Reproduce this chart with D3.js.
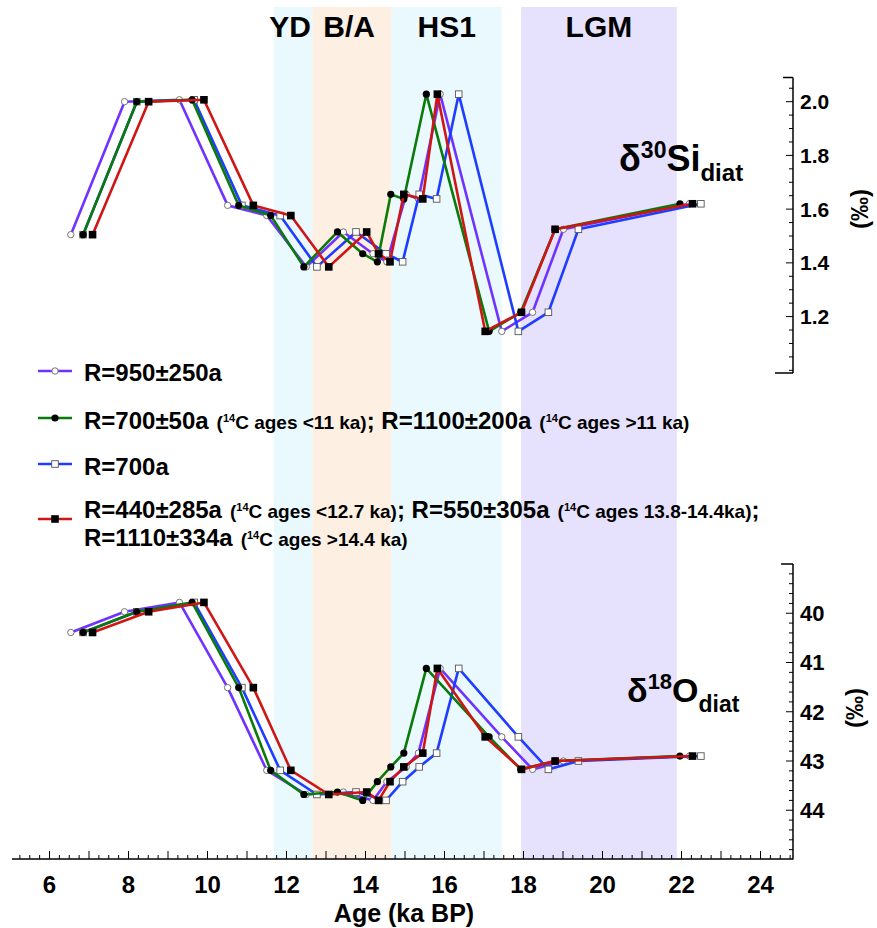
<!DOCTYPE html>
<html><head><meta charset="utf-8">
<script src="https://cdn.jsdelivr.net/npm/d3@7"></script>
<style>
body{margin:0;background:#fff}
text{font-family:"Liberation Sans",Arial,Helvetica,sans-serif;font-weight:bold;fill:#000}
</style>
</head><body>
<svg id="chart" width="877" height="928"></svg>
<script>
// ---------------- data ----------------
const seriesNames = ["R=950±250a", "R=700±50a", "R=700a", "R=440±285a"];
const siValues = [1.505, 2.0, 2.007, 1.614, 1.576, 1.385, 1.515, 1.434, 1.404, 1.655, 1.638, 2.028, 1.145, 1.216, 1.525, 1.62];
const oValues  = [40.39, 39.97, 39.78, 41.51, 43.19, 43.68, 43.63, 43.80, 43.42, 43.12, 42.84, 41.12, 42.51, 43.17, 43.0, 42.90];
const agePurple = [6.54, 7.90, 9.29, 10.51, 11.50, 12.50, 13.44, 14.19, 14.54, 15.03, 15.34, 15.89, 17.45, 18.23, 19.01, 22.20];
const ageGreen  = [6.85, 8.21, 9.61, 10.79, 11.60, 12.44, 13.29, 13.93, 14.30, 14.64, 14.97, 15.54, 17.13, 17.93, 18.80, 21.96];
const ageBlue   = [6.85, 8.21, 9.66, 10.87, 11.84, 12.77, 13.76, 14.52, 14.94, 15.36, 15.80, 16.36, 17.87, 18.63, 19.39, 22.49];
const ageRed    = [7.09, 8.51, 9.91, 11.16, 12.11, 13.07, 14.03, 14.33, 14.62, 14.97, 15.45, 15.82, 17.03, 17.95, 18.80, 22.28];

const bandNames = ["YD", "B/A", "HS1", "LGM"];
const bandStart = [11.68, 12.66, 14.66, 17.94];
const bandEnd   = [12.66, 14.66, 17.45, 21.88];

const xTickLabels = [6, 8, 10, 12, 14, 16, 18, 20, 22, 24];
const siTickLabels = [1.2, 1.4, 1.6, 1.8, 2.0];
const oTickLabels = [40, 41, 42, 43, 44];

// ---------------- setup ----------------
const svg = d3.select("#chart");
const x = d3.scaleLinear().domain([5, 25]).range([10, 800]);
const ySi = d3.scaleLinear().domain([0.99, 2.09]).range([373, 77.5]);
const yO = d3.scaleLinear().domain([39, 45]).range([564, 859.5]);
const axisX = 793, baseY = 859;

const bandColors = ["#eaf9fe", "#fdefe2", "#eaf9fe", "#e6e1fc"];
bandNames.forEach((n, i) => {
  svg.append("rect").attr("x", x(bandStart[i])).attr("y", 7)
    .attr("width", x(bandEnd[i]) - x(bandStart[i])).attr("height", baseY - 7)
    .attr("fill", bandColors[i]);
  svg.append("text").attr("x", (x(bandStart[i]) + x(bandEnd[i])) / 2 - (i < 2 ? 3 : 0)).attr("y", 37)
    .attr("text-anchor", "middle").attr("font-size", 30).text(n);
});

// ---------------- x axis ----------------
svg.append("line").attr("x1", x(5.05)).attr("x2", axisX).attr("y1", baseY).attr("y2", baseY)
  .attr("stroke", "#000").attr("stroke-width", 1.5);
d3.range(5.25, 24.9, 0.25).forEach(t => {
  const major = Math.abs(t - Math.round(t)) < 1e-6;
  svg.append("line").attr("x1", x(t)).attr("x2", x(t)).attr("y1", baseY).attr("y2", baseY - (major ? 8 : 4))
    .attr("stroke", "#000").attr("stroke-width", 1);
});
xTickLabels.forEach(t => {
  svg.append("text").attr("x", x(t)).attr("y", 893).attr("text-anchor", "middle")
    .attr("font-size", 24).text(t);
});
svg.append("text").attr("x", 404).attr("y", 922).attr("text-anchor", "middle")
  .attr("font-size", 25).text("Age (ka BP)");

// ---------------- right axes ----------------
function rightAxis(y, top, bottom, minorStep, majors, fmt, capTop, capBottom, fs) {
  svg.append("line").attr("x1", axisX).attr("x2", axisX).attr("y1", y(top)).attr("y2", y(bottom))
    .attr("stroke", "#000").attr("stroke-width", 1.5);
  svg.append("line").attr("x1", axisX - capTop).attr("x2", axisX).attr("y1", y(top)).attr("y2", y(top))
    .attr("stroke", "#000").attr("stroke-width", 1.5);
  if (capBottom) svg.append("line").attr("x1", axisX - capBottom).attr("x2", axisX).attr("y1", y(bottom)).attr("y2", y(bottom))
    .attr("stroke", "#000").attr("stroke-width", 1.5);
  const lo = Math.min(top, bottom), hi = Math.max(top, bottom);
  const start = Math.ceil((lo + 1e-6) / minorStep) * minorStep;
  for (let v = start; v < hi - 1e-6; v += minorStep) {
    const major = majors.some(m => Math.abs(m - v) < 1e-6);
    svg.append("line").attr("x1", axisX - (major ? 7 : 4)).attr("x2", axisX).attr("y1", y(v)).attr("y2", y(v))
      .attr("stroke", "#000").attr("stroke-width", 1);
  }
  majors.forEach(m => {
    svg.append("text").attr("x", axisX + 7).attr("y", y(m)).attr("dy", "0.36em")
      .attr("font-size", fs).text(fmt(m));
  });
}
rightAxis(ySi, 2.09, 0.99, 0.05, siTickLabels, d3.format(".1f"), 10, 18, 21);
rightAxis(yO, 39, 45, 0.2, oTickLabels, d => d, 12, 0, 22);

[[859, 209], [854, 708]].forEach(([cx, cy]) => {
  svg.append("text").attr("transform", `translate(${cx},${cy}) rotate(-90)`)
    .attr("text-anchor", "middle").attr("dy", "0.36em").attr("font-size", 24).text("(‰)");
});

// panel labels
const t1 = svg.append("text").attr("x", 619).attr("y", 171).attr("font-size", 36);
t1.append("tspan").text("δ");
t1.append("tspan").attr("font-size", 23).attr("dy", -13).text("30");
t1.append("tspan").attr("dy", 13).text("Si");
t1.append("tspan").attr("font-size", 24).attr("dy", 10).text("diat");

const t2 = svg.append("text").attr("x", 627).attr("y", 702).attr("font-size", 34);
t2.append("tspan").text("δ");
t2.append("tspan").attr("font-size", 22).attr("dy", -13).text("18");
t2.append("tspan").attr("dy", 13).text("O");
t2.append("tspan").attr("font-size", 23).attr("dy", 10).text("diat");

// ---------------- series ----------------
const series = [
  {ages: agePurple, color: "#7033ff", marker: "ocircle"},
  {ages: ageBlue,   color: "#1f3dff", marker: "osquare"},
  {ages: ageGreen,  color: "#0a7a0a", marker: "fcircle"},
  {ages: ageRed,    color: "#d01515", marker: "fsquare"}
];

function drawMarker(g, kind, cx, cy) {
  if (kind === "ocircle") g.append("circle").attr("cx", cx).attr("cy", cy).attr("r", 3.2)
    .attr("fill", "#fff").attr("stroke", "#666").attr("stroke-width", 0.9);
  else if (kind === "fcircle") g.append("circle").attr("cx", cx).attr("cy", cy).attr("r", 3.6).attr("fill", "#000");
  else if (kind === "osquare") g.append("rect").attr("x", cx - 3.3).attr("y", cy - 3.3).attr("width", 6.6).attr("height", 6.6)
    .attr("fill", "#fff").attr("stroke", "#555").attr("stroke-width", 0.9);
  else g.append("rect").attr("x", cx - 3.8).attr("y", cy - 3.8).attr("width", 7.6).attr("height", 7.6).attr("fill", "#000");
}

function drawPanel(values, y) {
  series.forEach(s => {
    const pts = s.ages.map((a, i) => [x(a), y(values[i])]);
    const g = svg.append("g");
    g.append("path").attr("d", d3.line()(pts)).attr("fill", "none")
      .attr("stroke", s.color).attr("stroke-width", 2.6).attr("stroke-linejoin", "round");
    pts.forEach(p => drawMarker(g, s.marker, p[0], p[1]));
  });
}
drawPanel(siValues, ySi);
drawPanel(oValues, yO);

// ---------------- legend ----------------
// order in legend: purple, green, blue, red
const legendOrder = [series[0], series[2], series[1], series[3]];
const legendLineY = [371, 418, 464, 519];
legendOrder.forEach((s, i) => {
  const g = svg.append("g");
  g.append("line").attr("x1", 38).attr("x2", 72).attr("y1", legendLineY[i]).attr("y2", legendLineY[i])
    .attr("stroke", s.color).attr("stroke-width", 2.6);
  drawMarker(g, s.marker, 55, legendLineY[i]);
});

function legendText(yc, parts) {
  const t = svg.append("text").attr("x", 84).attr("y", yc).attr("dy", "0.36em").attr("font-size", 24);
  parts.forEach(p => {
    if (p.small) {
      t.append("tspan").attr("font-size", 19).attr("dx", p.dx || 8).text("(");
      t.append("tspan").attr("font-size", 11).attr("dy", -7).text("14");
      t.append("tspan").attr("font-size", 19).attr("dy", 7).text(p.small);
    } else {
      t.append("tspan").attr("font-size", 24).attr("dx", p.dx || 0).text(p.big);
    }
  });
}
legendText(372, [{big: "R=950±250a"}]);
legendText(420, [{big: "R=700±50a"}, {small: "C ages <11 ka)"}, {big: "; R=1100±200a", dx: 0}, {small: "C ages >11 ka)"}]);
legendText(466, [{big: "R=700a"}]);
legendText(509, [{big: "R=440±285a"}, {small: "C ages <12.7 ka)"}, {big: "; R=550±305a"}, {small: "C ages 13.8-14.4ka)"}, {big: ";", dx: 0}]);
legendText(537, [{big: "R=1110±334a"}, {small: "C ages >14.4 ka)"}]);
</script>
</body></html>
